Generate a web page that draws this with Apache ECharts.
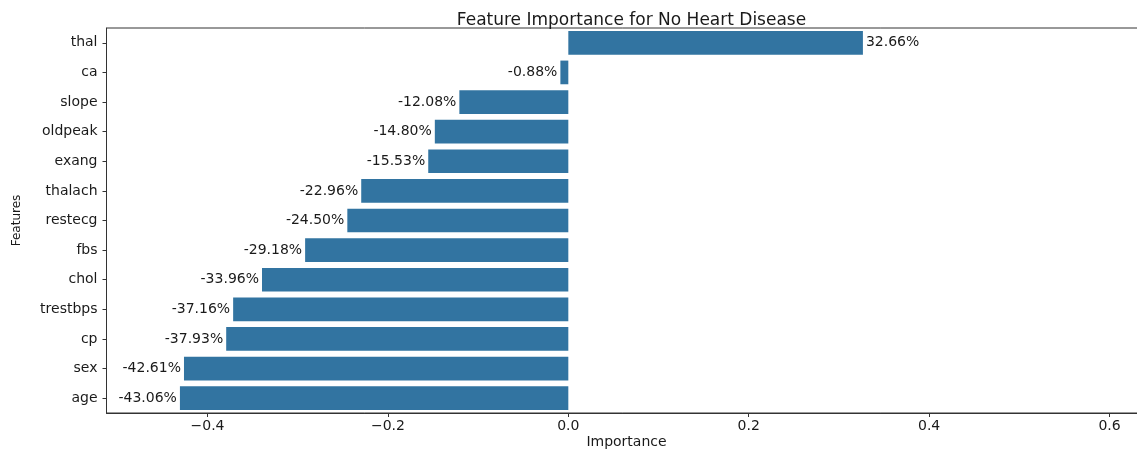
<!DOCTYPE html>
<html><head><meta charset="utf-8">
<script src="https://cdn.jsdelivr.net/npm/echarts@6/dist/echarts.min.js"></script>
<style>html,body{margin:0;padding:0;background:#fff}#c{width:1137px;height:450px}</style>
</head><body><div id="c"></div>
<script>
const features = ['thal','ca','slope','oldpeak','exang','thalach','restecg','fbs','chol','trestbps','cp','sex','age'];
const importance = [0.3266,-0.0088,-0.1208,-0.1480,-0.1553,-0.2296,-0.2450,-0.2918,-0.3396,-0.3716,-0.3793,-0.4261,-0.4306];
const xTicks = [-0.4,-0.2,0,0.2,0.4,0.6];

const FONT = 'DejaVu Sans';
const TXT = '#1a1a1a';
const chart = echarts.init(document.getElementById('c'), null, {renderer:'canvas'});
chart.setOption({
  animation:false,
  backgroundColor:'#fff',
  title:{text:'Feature Importance for No Heart Disease', left:626.5, top:7, textAlign:'center',
    textStyle:{fontFamily:FONT,fontSize:17,fontWeight:'normal',color:TXT}},
  grid:{left:106.5, top:28, width:1040, height:385, show:true, borderColor:'#333', borderWidth:1,
    containLabel:false, outerBoundsMode:'none'},
  xAxis:{type:'value', min:-0.512, max:0.641,
    name:'Importance', nameLocation:'middle', nameGap:22, nameMoveOverlap:false,
    nameTextStyle:{fontFamily:FONT,fontSize:14,color:TXT},
    axisLine:{show:true,onZero:false,lineStyle:{color:'#333'}},
    axisTick:{show:true,length:4,customValues:xTicks,lineStyle:{color:'#333'}},
    splitLine:{show:false},
    axisLabel:{customValues:xTicks,fontFamily:FONT,fontSize:14,color:TXT,margin:6,
      formatter:v=>v.toFixed(1).replace('-','\u2212')}},
  yAxis:{type:'category', data:features, inverse:true,
    name:'Features', nameLocation:'middle', nameGap:84, nameRotate:90, nameMoveOverlap:false,
    nameTextStyle:{fontFamily:FONT,fontSize:12,color:TXT},
    axisLine:{show:true,onZero:false,lineStyle:{color:'#333'}},
    axisTick:{show:true,length:4,alignWithLabel:true,lineStyle:{color:'#333'}},
    axisLabel:{fontFamily:FONT,fontSize:14,color:TXT,margin:9}},
  series:[{type:'bar', barCategoryGap:'20%',
    data:importance.map(v=>({value:v,label:{position:v<0?'left':'right'}})),
    itemStyle:{color:'#3274a1'},
    label:{show:true, fontFamily:FONT, fontSize:14, color:TXT, distance:3,
      formatter:p=>(p.value*100).toFixed(2)+'%'}
  }]
});
</script></body></html>
